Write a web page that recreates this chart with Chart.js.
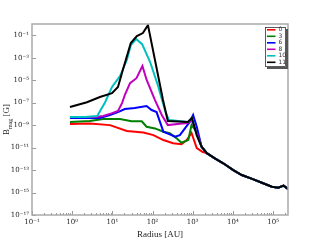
<!DOCTYPE html>
<html>
<head>
<meta charset="utf-8">
<script src="https://cdn.jsdelivr.net/npm/chart.js@4/dist/chart.umd.min.js"></script>
<style>
  html, body { margin: 0; padding: 0; background: #fff; }
  #wrap { width: 320px; height: 240px; position: relative; }
</style>
</head>
<body>
<div id="wrap"><canvas id="chart"></canvas></div>
<script>
// Series labels (snapshot index) and colours
const labels = ['0', '3', '6', '8', '10', '11'];
const colors = ['#ff0000', '#008000', '#0000ff', '#bf00bf', '#00bfbf', '#000000'];

// Outer region where all snapshots overlap
const tailR = [2240, 3550, 5750, 10200, 16600, 32400, 52500, 93300, 135000, 182000, 240000];
const tailB = [3.2e-12, 1.1e-12, 4.0e-13, 1.0e-13, 3.6e-14, 1.5e-14, 7.4e-15, 3.3e-15, 2.7e-15, 4.1e-15, 2.0e-15];

// Snapshot 0
const r0 = [0.88, 2.75, 8.7, 22.9, 59, 105, 186, 324, 525, 708, 933, 1260, 1780];
const b0 = [1.26e-9, 1.4e-9, 1.0e-9, 3.0e-10, 2.2e-10, 1.3e-10, 4.7e-11, 2.4e-11, 1.95e-11, 4.7e-11, 2.0e-10, 9.1e-12, 4.0e-12];

// Snapshot 3
const r3 = [0.88, 2.75, 5.9, 15.5, 30, 54, 71, 115, 186, 269, 398, 525, 776, 933, 1260, 1660];
const b3 = [1.9e-9, 2.3e-9, 3.5e-9, 3.5e-9, 2.2e-9, 2.2e-9, 7.2e-10, 5.1e-10, 2.6e-10, 1.9e-10, 6.6e-11, 2.7e-11, 4.7e-11, 1.0e-9, 2.5e-10, 1.2e-11];

// Snapshot 6
const r6 = [0.88, 4.9, 8.7, 13.8, 20.4, 36, 71, 95, 126, 186, 269, 363, 479, 646, 851, 1023, 1260, 1660];
const b6 = [4.3e-9, 4.3e-9, 7.9e-9, 1.45e-8, 2.7e-8, 3.3e-8, 5.0e-8, 2.2e-8, 1.45e-8, 2.6e-10, 1.5e-10, 9.3e-11, 1.3e-10, 5.5e-10, 2.0e-9, 7.9e-9, 7.2e-10, 1.2e-11];

// Snapshot 8
const r8 = [0.88, 3.9, 5.9, 9.5, 13.8, 17.4, 20.4, 27.5, 39.8, 56, 71, 115, 170, 240, 479, 759, 933, 1260, 1660];
const b8 = [5.2e-9, 5.2e-9, 6.5e-9, 1.1e-8, 1.8e-8, 9.1e-8, 4.8e-7, 5.5e-6, 1.5e-5, 1.8e-4, 1.1e-5, 1.7e-7, 7.9e-9, 1.0e-9, 1.3e-9, 1.5e-9, 2.8e-9, 2.0e-10, 1.2e-11];

// Snapshot 10
const r10 = [0.88, 2.1, 4.2, 6.6, 9.8, 15.5, 22.9, 28.8, 38.9, 55, 87, 135, 214, 257, 759, 955, 1260, 1660];
const b10 = [5.2e-9, 5.2e-9, 6.5e-9, 1.1e-7, 2.5e-6, 2.3e-5, 6.2e-4, 0.013, 0.046, 0.016, 4.1e-4, 3.7e-6, 1.2e-8, 2.8e-9, 1.9e-9, 4.3e-9, 1.3e-10, 1.2e-11];

// Snapshot 11
const r11 = [0.88, 2.33, 4.9, 9.8, 13.8, 18.2, 28.8, 40.7, 57.5, 76.9, 182, 240, 759, 955, 1260, 1660];
const b11 = [4.1e-8, 1.1e-7, 3.2e-7, 7.1e-7, 2.5e-6, 7.9e-5, 0.02, 0.085, 0.155, 0.79, 1.7e-7, 2.3e-9, 1.9e-9, 4.3e-9, 1.3e-10, 1.2e-11];

// Tick exponents
const xTickExp = [-1, 0, 1, 2, 3, 4, 5];
const yTickExp = [-17, -15, -13, -11, -9, -7, -5, -3, -1];

const radii = [r0, r3, r6, r8, r10, r11];
const fields = [b0, b3, b6, b8, b10, b11];

const SUP = { '-': '\u207b', '0': '\u2070', '1': '\u00b9', '2': '\u00b2', '3': '\u00b3', '4': '\u2074',
              '5': '\u2075', '6': '\u2076', '7': '\u2077', '8': '\u2078', '9': '\u2079' };
function powLabel(v) {
    const e = Math.round(Math.log10(v));
    return '10' + String(e).split('').map(c => SUP[c]).join('');
}

function series(i) {
    const pts = radii[i].map((r, k) => ({ x: r, y: fields[i][k] }));
    tailR.forEach((r, k) => pts.push({ x: r, y: tailB[k] }));
    return pts;
}

// black drawn last in matplotlib => first here (chart.js puts dataset 0 on top)
const datasets = labels.map((l, i) => ({
    label: l,
    data: series(i),
    borderColor: colors[i],
    borderWidth: 2,
    pointRadius: 0,
    tension: 0,
    fill: false
})).reverse();

const frameAndDecor = {
    id: 'frameAndDecor',
    afterDraw(chart) {
        const { ctx, chartArea: a, scales } = chart;
        ctx.save();

        // inward tick marks
        ctx.strokeStyle = '#999';
        ctx.lineWidth = 1;
        yTickExp.forEach(e => {
            const y = Math.round(scales.y.getPixelForValue(Math.pow(10, e))) + 0.5;
            ctx.beginPath(); ctx.moveTo(a.left, y); ctx.lineTo(a.left + 4, y); ctx.stroke();
        });
        xTickExp.forEach(e => {
            for (let m = 1; m < 10; m++) {
                const v = m * Math.pow(10, e);
                if (v > scales.x.max) break;
                const x = Math.round(scales.x.getPixelForValue(v)) + 0.5;
                ctx.beginPath(); ctx.moveTo(x, a.bottom); ctx.lineTo(x, a.bottom - (m === 1 ? 4 : 2)); ctx.stroke();
            }
        });

        // frame
        ctx.strokeStyle = '#aaa';
        ctx.lineWidth = 1.5;
        ctx.strokeRect(a.left, a.top, a.right - a.left, a.bottom - a.top);

        // y-axis title with subscript
        ctx.fillStyle = '#222';
        ctx.translate(9, (a.top + a.bottom) / 2);
        ctx.rotate(-Math.PI / 2);
        ctx.textBaseline = 'alphabetic';
        const f1 = '9px "Liberation Serif", "DejaVu Serif", serif';
        const f2 = '6px "Liberation Serif", "DejaVu Serif", serif';
        ctx.font = f1; const wB = ctx.measureText('B').width; const wG = ctx.measureText(' [G]').width;
        ctx.font = f2; const wM = ctx.measureText('mag').width;
        let x0 = -(wB + wM + wG) / 2;
        ctx.font = f1; ctx.fillText('B', x0, 0);
        ctx.font = f2; ctx.fillText('mag', x0 + wB, 2.5);
        ctx.font = f1; ctx.fillText(' [G]', x0 + wB + wM, 0);
        ctx.restore();

        // legend box
        ctx.save();
        const lx = 265, ly = 27, lw = 21, lh = 40;
        ctx.fillStyle = '#555';
        ctx.fillRect(lx + 2, ly + 2, lw, lh);
        ctx.fillStyle = '#fff';
        ctx.fillRect(lx, ly, lw, lh);
        ctx.strokeStyle = '#333';
        ctx.lineWidth = 0.8;
        ctx.strokeRect(lx + 0.5, ly + 0.5, lw - 1, lh - 1);
        ctx.font = '6px "DejaVu Sans", sans-serif';
        ctx.textBaseline = 'middle';
        labels.forEach((l, i) => {
            const y = 29.8 + i * 6.5;
            ctx.strokeStyle = colors[i];
            ctx.lineWidth = 1.6;
            ctx.beginPath(); ctx.moveTo(267, y); ctx.lineTo(275.5, y); ctx.stroke();
            ctx.fillStyle = '#333';
            ctx.fillText(l, 278.5, y);
        });
        ctx.restore();
    }
};

new Chart(document.getElementById('chart'), {
    type: 'line',
    data: { datasets },
    options: {
        responsive: true,
        maintainAspectRatio: false,
        animation: false,
        layout: { padding: { left: 0, top: 24, right: 32, bottom: 0 } },
        plugins: { legend: { display: false }, tooltip: { enabled: false } },
        scales: {
            x: {
                type: 'logarithmic',
                min: 0.1,
                max: 2.35e5,
                grid: { display: false, drawTicks: false },
                border: { display: false },
                afterBuildTicks: s => { s.ticks = xTickExp.map(e => ({ value: Math.pow(10, e) })); },
                afterFit: s => { s.height = 25; },
                ticks: {
                    autoSkip: false, maxRotation: 0, padding: 3,
                    color: '#222',
                    font: { family: '"DejaVu Serif", serif', size: 7 },
                    callback: v => powLabel(v)
                },
                title: {
                    display: true, text: 'Radius [AU]', color: '#222', padding: 0,
                    font: { family: '"Liberation Serif", serif', size: 9 }
                }
            },
            y: {
                type: 'logarithmic',
                min: 1e-17,
                max: 1,
                grid: { display: false, drawTicks: false },
                border: { display: false },
                afterBuildTicks: s => { s.ticks = yTickExp.map(e => ({ value: Math.pow(10, e) })); },
                afterFit: s => { s.width = 32; },
                ticks: {
                    autoSkip: false, padding: 3,
                    color: '#222',
                    font: { family: '"DejaVu Serif", serif', size: 7 },
                    callback: v => powLabel(v)
                }
            }
        }
    },
    plugins: [frameAndDecor]
});
</script>
</body>
</html>
